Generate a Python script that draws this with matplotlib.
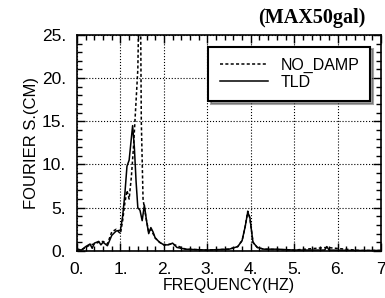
import matplotlib.pyplot as plt
from matplotlib.ticker import MultipleLocator

# frequency (Hz) and Fourier spectrum (cm)
f_tld = [0.0, 0.1, 0.2, 0.3, 0.35, 0.4, 0.5, 0.55, 0.6, 0.7, 0.8, 0.9, 1.0, 1.05,
         1.1, 1.15, 1.2, 1.25, 1.28, 1.32, 1.36, 1.4, 1.45, 1.5, 1.55, 1.6, 1.65,
         1.7, 1.75, 1.8, 1.9, 2.0, 2.1, 2.2, 2.3, 2.5, 3.0, 3.5, 3.7, 3.8, 3.87,
         3.93, 3.98, 4.05, 4.15, 4.3, 4.6, 5.0, 5.7, 5.75, 5.8, 6.5, 7.0]
v_tld = [0.2, 0.1, 0.5, 0.8, 0.3, 0.9, 1.1, 0.7, 1.0, 0.6, 1.8, 2.3, 2.4, 4.0,
         6.5, 9.8, 10.5, 13.0, 14.5, 12.0, 8.0, 5.0, 4.7, 3.5, 5.3, 3.5, 2.0,
         2.7, 2.2, 1.5, 1.0, 0.7, 0.7, 0.9, 0.4, 0.2, 0.1, 0.2, 0.5, 1.2, 2.8,
         4.5, 3.8, 1.0, 0.4, 0.2, 0.2, 0.1, 0.1, 0.5, 0.1, 0.05, 0.05]

f_nd = [0.0, 0.1, 0.2, 0.3, 0.4, 0.5, 0.6, 0.7, 0.8, 0.9, 1.0, 1.05, 1.1, 1.15,
        1.2, 1.25, 1.3, 1.35, 1.4, 1.43, 1.46, 1.48, 1.52, 1.55, 1.6, 1.65, 1.7,
        1.8, 1.9, 2.0, 2.2, 2.5, 3.0, 3.5, 3.7, 3.8, 3.87, 3.93, 3.98, 4.05,
        4.15, 4.3, 5.0, 5.75, 6.5, 7.0]
v_nd = [0.2, 0.1, 0.4, 0.7, 0.8, 1.0, 1.1, 0.8, 2.2, 2.5, 2.0, 3.5, 5.5, 7.0,
        6.0, 8.5, 12.0, 16.5, 21.0, 30.0, 30.0, 15.0, 6.0, 5.0, 3.5, 2.2, 2.5,
        1.5, 1.0, 0.7, 0.8, 0.2, 0.1, 0.2, 0.5, 1.2, 2.8, 4.6, 3.8, 1.0, 0.4,
        0.2, 0.1, 0.4, 0.05, 0.05]

x_ticks = [0, 1, 2, 3, 4, 5, 6, 7]
x_labels = ['0.', '1.', '2.', '3.', '4.', '5.', '6.', '7']
y_ticks = [0, 5, 10, 15, 20, 25]
y_labels = ['0.', '5.', '10.', '15.', '20.', '25.']

fig = plt.figure(figsize=(3.85, 2.98), dpi=100)
ax = fig.add_axes([0.2, 0.158, 0.79, 0.725])

ax.plot(f_nd, v_nd, color='black', lw=1.1, ls=(0, (2, 1.5)), label='NO_DAMP')
ax.plot(f_tld, v_tld, color='black', lw=1.1, label='TLD')

ax.set_xlim(0, 7)
ax.set_ylim(0, 25)
ax.set_xticks(x_ticks)
ax.set_xticklabels(x_labels)
ax.set_yticks(y_ticks)
ax.set_yticklabels(y_labels)
ax.xaxis.set_minor_locator(MultipleLocator(0.2))
ax.yaxis.set_minor_locator(MultipleLocator(1))
ax.tick_params(which='both', direction='in', top=True, right=True,
               labelsize=12.5, width=1)
ax.tick_params(which='major', length=6)
ax.tick_params(axis='x', which='major', pad=8)
ax.tick_params(axis='y', which='major', pad=8)
ax.tick_params(which='minor', length=3.5)
for lab in ax.get_xticklabels() + ax.get_yticklabels():
    lab.set_family('Liberation Sans')
for s in ax.spines.values():
    s.set_linewidth(1.2)

ax.grid(True, which='major', color='black', ls=':', lw=0.8)

narrow = ['Liberation Sans Narrow', 'Liberation Sans']
ax.set_xlabel('FREQUENCY(HZ)', family=narrow, fontsize=11.5, labelpad=1)
ax.set_ylabel('FOURIER S.(CM)', family=narrow, fontsize=12, labelpad=2)

leg = ax.legend(loc='upper right', bbox_to_anchor=(0.975, 0.96), frameon=True,
                fancybox=False, shadow=True, prop={'family': narrow, 'size': 11.5},
                handlelength=3.0, borderpad=0.7, labelspacing=0.1,
                handletextpad=0.8, borderaxespad=0.2)
leg.get_frame().set_edgecolor('black')
leg.get_frame().set_linewidth(1.5)
leg.get_frame().set_alpha(1)

fig.text(0.95, 0.94, '(MAX50gal)', ha='right', va='center',
         family='Liberation Serif', weight='bold', fontsize=14.5)

fig.savefig('out.png', dpi=100)
